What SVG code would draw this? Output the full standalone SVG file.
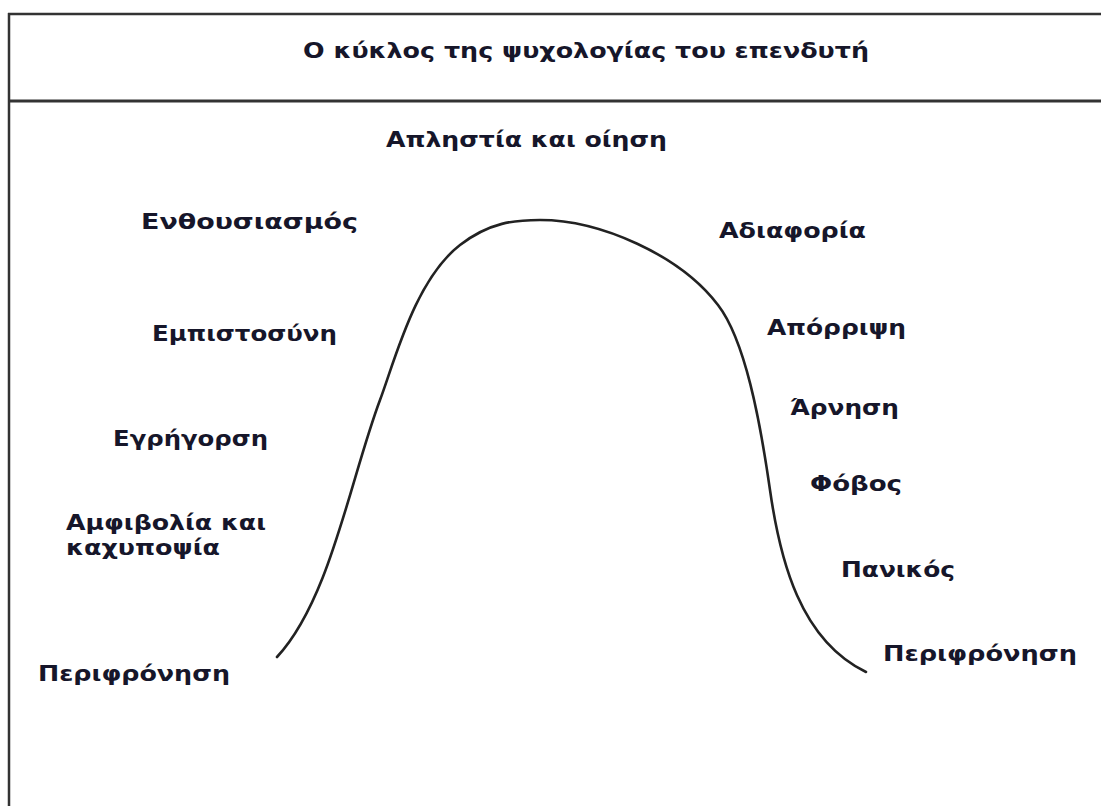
<svg xmlns="http://www.w3.org/2000/svg" width="1101" height="806" viewBox="0 0 1101 806">
<style>
.lbl{font-family:"DejaVu Sans","Liberation Sans",sans-serif;font-weight:bold;font-size:21px;fill:#16162a}
.frame{stroke:#333;fill:none}
.curve{stroke:#222;stroke-width:2.6;fill:none;stroke-linecap:round}
</style>
<rect width="1101" height="806" fill="#fff"/>
<g id="frame">
<line class="frame" x1="8" y1="14" x2="1101" y2="14" stroke-width="2.5"/>
<line class="frame" x1="8" y1="101" x2="1101" y2="101" stroke-width="3" stroke="#222"/>
<line class="frame" x1="9" y1="13" x2="9" y2="806" stroke-width="2.5"/>
</g>
<g id="title"><text class="lbl" x="303" y="58" textLength="566" lengthAdjust="spacingAndGlyphs">Ο κύκλος της ψυχολογίας του επενδυτή</text></g>
<g id="connectors">
<path class="curve" d="M277,657 C330,600 350,480 380,400 C395,360 415,280 460,245 C490,222 515,220 540,220 C600,220 680,255 718,305 C745,340 760,420 770,490 C780,560 800,640 866,672"/>
</g>
<g id="n-apl"><text class="lbl" x="386" y="147" textLength="281" lengthAdjust="spacingAndGlyphs">Απληστία και οίηση</text></g>
<g id="n-enth"><text class="lbl" x="141" y="229" textLength="217" lengthAdjust="spacingAndGlyphs">Ενθουσιασμός</text></g>
<g id="n-adia"><text class="lbl" x="719" y="238" textLength="147" lengthAdjust="spacingAndGlyphs">Αδιαφορία</text></g>
<g id="n-empi"><text class="lbl" x="152" y="341" textLength="185" lengthAdjust="spacingAndGlyphs">Εμπιστοσύνη</text></g>
<g id="n-apor"><text class="lbl" x="767" y="335" textLength="139" lengthAdjust="spacingAndGlyphs">Απόρριψη</text></g>
<g id="n-egri"><text class="lbl" x="113" y="446" textLength="155" lengthAdjust="spacingAndGlyphs">Εγρήγορση</text></g>
<g id="n-arn"><text class="lbl" x="790" y="415" textLength="109" lengthAdjust="spacingAndGlyphs">Άρνηση</text></g>
<g id="n-fob"><text class="lbl" x="810" y="491" textLength="92" lengthAdjust="spacingAndGlyphs">Φόβος</text></g>
<g id="n-amfi"><text class="lbl" x="66" y="530" textLength="200" lengthAdjust="spacingAndGlyphs">Αμφιβολία και</text><text class="lbl" x="66" y="555" textLength="154" lengthAdjust="spacingAndGlyphs">καχυποψία</text></g>
<g id="n-pan"><text class="lbl" x="841" y="577" textLength="114" lengthAdjust="spacingAndGlyphs">Πανικός</text></g>
<g id="n-per1"><text class="lbl" x="38" y="681" textLength="192" lengthAdjust="spacingAndGlyphs">Περιφρόνηση</text></g>
<g id="n-per2"><text class="lbl" x="883" y="661" textLength="194" lengthAdjust="spacingAndGlyphs">Περιφρόνηση</text></g>
</svg>
